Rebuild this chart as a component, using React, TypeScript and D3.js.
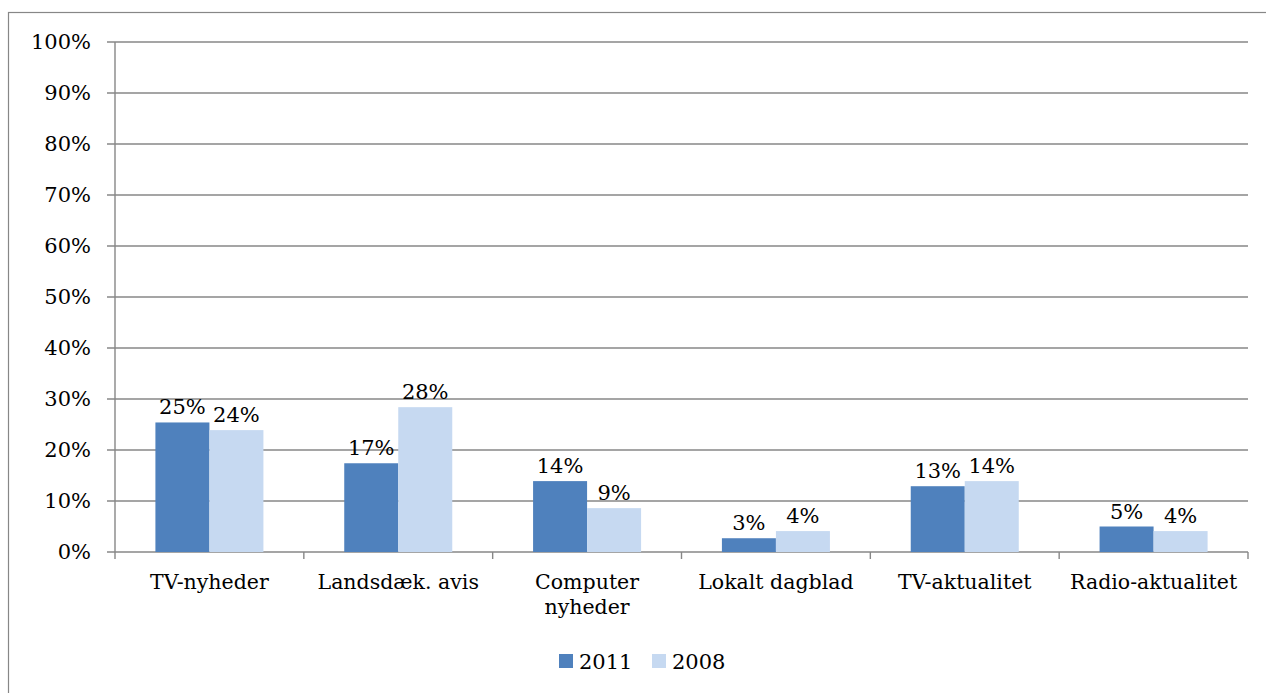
import React from "react";
import * as d3 from "d3";

const categories: string[][] = [
  ["TV-nyheder"],
  ["Landsdæk. avis"],
  ["Computer", "nyheder"],
  ["Lokalt dagblad"],
  ["TV-aktualitet"],
  ["Radio-aktualitet"],
];
const seriesNames = ["2011", "2008"];
const values2011 = [0.254, 0.174, 0.139, 0.027, 0.129, 0.05];
const values2008 = [0.239, 0.284, 0.086, 0.041, 0.139, 0.041];
const yTicks = [0, 0.1, 0.2, 0.3, 0.4, 0.5, 0.6, 0.7, 0.8, 0.9, 1.0];
const colors = ["#4F81BD", "#C6D9F1"];

const W = 1266;
const H = 693;
const margin = { left: 115, right: 18, top: 42, bottom: 141 };
const FONT = "'DejaVu Serif', Georgia, serif";
const GRID = "#878787";

export default function App() {
  const x0 = d3
    .scaleBand<number>()
    .domain(categories.map((_, i) => i))
    .range([margin.left, W - margin.right]);
  const y = d3.scaleLinear().domain([0, 1]).range([H - margin.bottom, margin.top]);
  const groupPad = 0.214;
  const x1 = d3
    .scaleBand<number>()
    .domain([0, 1])
    .range([x0.bandwidth() * groupPad, x0.bandwidth() * (1 - groupPad)]);
  const series = [values2011, values2008];
  const fmt = d3.format(".0%");
  const y0 = y(0);
  const fs = 20.5;

  return (
    <svg
      width={W}
      height={H}
      style={{ position: "absolute", left: 0, top: 0, background: "#fff" }}
      fontFamily={FONT}
    >
      <rect x={8.5} y={12.5} width={1400} height={800} fill="#fff" stroke={GRID} strokeWidth={1.2} />
      {yTicks.map((t) => (
        <g key={t}>
          <line
            x1={margin.left - 8}
            x2={W - margin.right}
            y1={y(t)}
            y2={y(t)}
            stroke={GRID}
            strokeWidth={1.4}
          />
          <text
            x={margin.left - 24}
            y={y(t)}
            dy="0.35em"
            textAnchor="end"
            fontSize={21}
            fill="#000"
          >
            {fmt(t)}
          </text>
        </g>
      ))}
      <line x1={margin.left} x2={margin.left} y1={margin.top} y2={y0 + 7} stroke={GRID} strokeWidth={1.4} />
      {categories.map((_, i) => (
        <line
          key={"tk" + i}
          x1={(x0(i) as number) + x0.bandwidth()}
          x2={(x0(i) as number) + x0.bandwidth()}
          y1={y0}
          y2={y0 + 7}
          stroke={GRID}
          strokeWidth={1.4}
        />
      ))}
      {categories.map((_, i) => (
        <g key={"g" + i} transform={`translate(${x0(i)},0)`}>
          {series.map((vals, s) => (
            <rect
              key={s}
              x={x1(s)}
              y={y(vals[i])}
              width={x1.bandwidth()}
              height={y0 - y(vals[i])}
              fill={colors[s]}
            />
          ))}
          {series.map((vals, s) => (
            <text
              key={"l" + s}
              x={(x1(s) as number) + x1.bandwidth() / 2}
              y={y(vals[i]) - 8}
              textAnchor="middle"
              fontSize={21}
              fill="#000"
            >
              {fmt(vals[i])}
            </text>
          ))}
        </g>
      ))}
      {categories.map((lines, i) => (
        <text
          key={"c" + i}
          x={(x0(i) as number) + x0.bandwidth() / 2}
          y={y0 + 37}
          textAnchor="middle"
          fontSize={fs}
          fill="#000"
        >
          {lines.map((ln, k) => (
            <tspan key={k} x={(x0(i) as number) + x0.bandwidth() / 2} dy={k === 0 ? 0 : 25}>
              {ln}
            </tspan>
          ))}
        </text>
      ))}
      <g>
        {seriesNames.map((name, s) => (
          <g key={name} transform={`translate(${559 + s * 93},0)`}>
            <rect x={0} y={654} width={14} height={14} fill={colors[s]} />
            <text x={20} y={669} fontSize={21} fill="#000">
              {name}
            </text>
          </g>
        ))}
      </g>
    </svg>
  );
}
